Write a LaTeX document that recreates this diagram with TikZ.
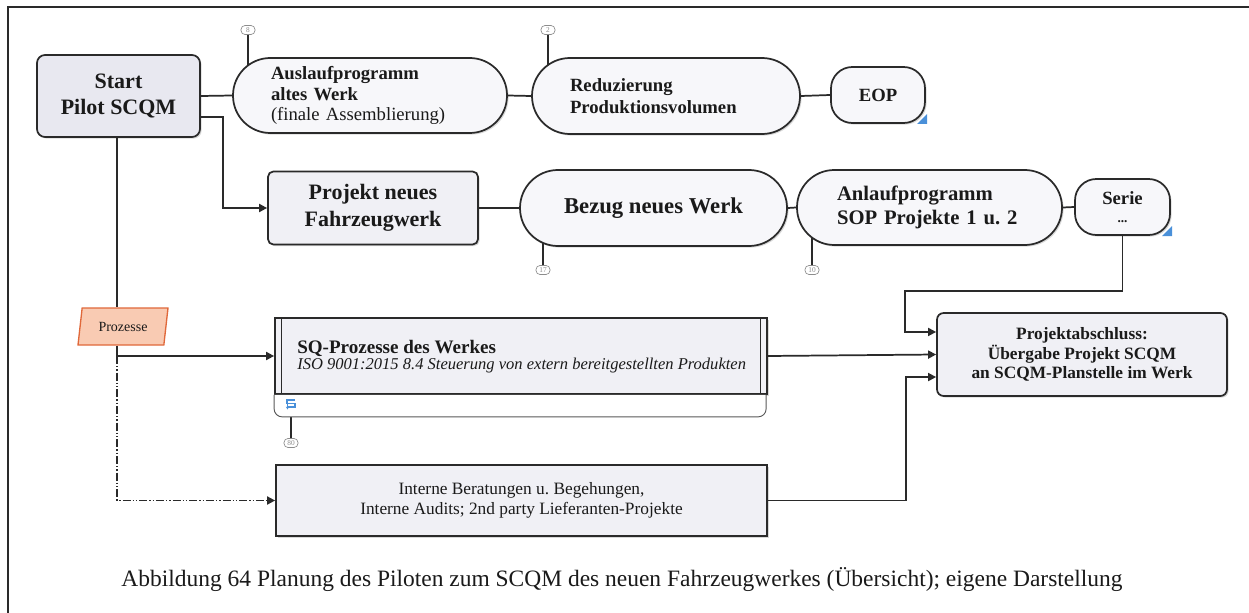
\documentclass[tikz,border=0pt]{standalone}
\usepackage{fontspec}
\setmainfont{Liberation Serif}
\usetikzlibrary{shapes.geometric,shadows,arrows.meta}
\pgfdeclarelayer{background}
\pgfsetlayers{background,main}
\frenchspacing

\definecolor{boxfill}{HTML}{F0F0F5}
\definecolor{startfill}{HTML}{E8E8F0}
\definecolor{stadfill}{HTML}{F7F7FA}
\definecolor{edgec}{HTML}{2A2A2A}
\definecolor{procfill}{HTML}{F9CBB3}
\definecolor{procedge}{HTML}{E0683A}
\definecolor{markgray}{HTML}{8C8C8C}
\definecolor{cornerblue}{HTML}{4A90D9}
\definecolor{txt}{HTML}{1A1A1A}

\tikzset{
  base/.style={draw=edgec, line width=1.3pt, inner sep=0pt, text=txt,
    drop shadow={shadow xshift=1.2pt, shadow yshift=-1.2pt, opacity=0.3, fill=gray}},
  boxnode/.style={base, fill=boxfill, rounded corners=4pt, align=center, font=\bfseries},
  stadnode/.style={base, fill=stadfill, font=\bfseries},
  marker/.style={draw=markgray, line width=0.5pt, rounded corners=3pt, fill=white,
    minimum width=10.5pt, minimum height=6.75pt, inner sep=0pt,
    font=\fontsize{5.5}{5.5}\selectfont, text=markgray},
  mline/.style={draw=edgec, line width=0.9pt},
  conn/.style={draw=edgec, line width=1.3pt},
  arr/.style={conn, -{Triangle[length=6pt,width=6pt]}},
  dashdotdot/.style={dash pattern=on 6pt off 1.5pt on 1pt off 1.5pt on 1pt off 1.5pt},
}

\begin{document}
\begin{tikzpicture}[x=0.75pt, y=-0.75pt]
\useasboundingbox (0,0) rectangle (1249,613);
\begin{pgfonlayer}{background}
\fill[white] (0,0) rectangle (1249,613);
\end{pgfonlayer}
% frame
\draw[edgec, line width=1.1pt] (1249,7) -- (8,7) -- (8,613);

% nodes
\node[boxnode, fill=startfill, rounded corners=6pt, minimum width=122.25pt, minimum height=61.5pt,
  font=\bfseries\fontsize{16.5}{19.5}\selectfont] (start) at (118.5,96) {Start\\Pilot SCQM};

\node[stadnode, rounded corners=28pt, minimum width=205.5pt, minimum height=56.25pt,
  text width=148.5pt, inner xsep=28.5pt, align=left, font=\fontsize{14}{15.5}\selectfont] (ausl) at (370,95.5)
  {\textbf{Auslaufprogramm}\\\textbf{altes Werk}\\(finale Assemblierung)};

\node[stadnode, rounded corners=28.5pt, minimum width=201pt, minimum height=57pt,
  text width=144pt, inner xsep=28.5pt, align=left, font=\bfseries\fontsize{14}{16}\selectfont] (reduz) at (666,96)
  {Reduzierung\\Produktionsvolumen};

\node[stadnode, rounded corners=16pt, minimum width=70.5pt, minimum height=42pt,
  font=\bfseries\fontsize{14}{16}\selectfont] (eop) at (878,95) {EOP};

\node[boxnode, minimum width=157.5pt, minimum height=54.75pt,
  font=\bfseries\fontsize{16.5}{20}\selectfont] (projekt) at (373,208) {Projekt neues\\Fahrzeugwerk};

\node[stadnode, rounded corners=28.5pt, minimum width=200.25pt, minimum height=57pt,
  font=\bfseries\fontsize{17}{19}\selectfont] (bezug) at (653.5,208) {Bezug neues Werk};

\node[stadnode, rounded corners=28pt, minimum width=198.75pt, minimum height=56.25pt,
  text width=138.75pt, inner xsep=30pt, align=left, font=\bfseries\fontsize{15.5}{18}\selectfont] (anlauf) at (929.5,207.5)
  {Anlaufprogramm\\SOP Projekte 1 u. 2};

\node[stadnode, rounded corners=16pt, minimum width=71.25pt, minimum height=42pt, align=center,
  font=\bfseries\fontsize{14}{16}\selectfont] (serie) at (1122.5,207) {Serie\\[-2pt]{\fontsize{10}{10}\selectfont ...}};

\node[boxnode, rounded corners=5pt, minimum width=217.5pt, minimum height=62.25pt,
  font=\bfseries\fontsize{13}{14.6}\selectfont] (absch) at (1082,354.5)
  {Projektabschluss:\\Übergabe Projekt SCQM\\an SCQM-Planstelle im Werk};

\node[boxnode, minimum width=369pt, minimum height=57pt, rounded corners=0pt] (sq) at (521,356) {};

\node[boxnode, rounded corners=0pt, minimum width=368.25pt, minimum height=53.25pt,
  font=\fontsize{13}{15}\selectfont] (interne) at (521.5,500.5)
  {Interne Beratungen u. Begehungen,\\Interne Audits; 2nd party Lieferanten-Projekte};

\node[trapezium, trapezium left angle=75, trapezium right angle=105, trapezium stretches=true,
  draw=procedge, fill=procfill, line width=1pt, minimum width=67.5pt, minimum height=27.75pt,
  inner sep=0pt, font=\fontsize{10.5}{12}\selectfont, text=txt] (proz) at (123,326.5) {Prozesse};

% SQ details
\draw[edgec, line width=1pt] ([xshift=5.5pt]sq.north west) -- ([xshift=5.5pt]sq.south west);
\draw[edgec, line width=1pt] ([xshift=-5.5pt]sq.north east) -- ([xshift=-5.5pt]sq.south east);
\draw[draw=gray!70!black, line width=0.7pt, fill=white, rounded corners=6pt]
  (sq.south west) -- ++(0,22) -- ++(492,0) -- ++(0,-22);
\node[anchor=west, align=left, inner sep=0pt, text=txt] (sqt) at (297,357)
  {{\bfseries\fontsize{14.3}{16.5}\selectfont SQ-Prozesse des Werkes}\\
   {\itshape\fontsize{12.4}{14}\selectfont ISO 9001:2015 8.4 Steuerung von extern bereitgestellten Produkten}};
\draw[cornerblue, line width=0.8pt] (295,400) -- (287,400) -- (287,403.5) -- (295,403.5) -- (295,407) -- (288,407);
\draw[cornerblue, line width=0.8pt, -{Stealth[length=2.2pt,width=2.5pt]}] (287.5,404) -- (287.5,409.5);

% blue corner marks
\fill[cornerblue] (927,114) -- (927,124) -- (917,124) -- cycle;
\fill[cornerblue] (1172,226) -- (1172,236) -- (1162,236) -- cycle;

% markers
\node[marker] (m8) at (248,30) {8};
\node[marker] (m2) at (548,30) {2};
\node[marker] (m17) at (543,270) {17};
\node[marker] (m10) at (812,270) {10};
\node[marker] (m80) at (291,443) {80};

\begin{pgfonlayer}{background}
\draw[mline] (m8.south) -- (m8.south |- ausl.center);
\draw[mline] (m2.south) -- (m2.south |- reduz.center);
\draw[mline] (m17.north) -- (m17.north |- bezug.center);
\draw[mline] (m10.north) -- (m10.north |- anlauf.center);
\draw[mline] (m80.north) -- (m80.north |- sq.center);
\end{pgfonlayer}

% connectors
\draw[conn] (start.east) -- (ausl.west);
\draw[conn] (ausl.east) -- (reduz.west);
\draw[conn] (reduz.east) -- (eop.west);
\draw[arr] ([yshift=-15.75pt]start.east) -- ++(22,0) |- (projekt.west);
\draw[conn] (projekt.east) -- (bezug.west);
\draw[conn] (bezug.east) -- (anlauf.west);
\draw[conn] (anlauf.east) -- (serie.west);
\coordinate (jx1) at (905,291);
\draw[arr] (serie.south) |- (jx1) |- ([yshift=16.9pt]absch.west);
\draw[arr] (sq.east) -- (absch.west);
\draw[arr] (interne.east) -- ++(138,0) |- ([yshift=-16.9pt]absch.west);

\coordinate (jp) at (117,356);
\draw[conn] (start.south -| jp) -- (jp |- proz.north);
\draw[conn] (jp |- proz.south) -- (jp);
\draw[arr] (jp) -- (sq.west);
\draw[arr, dashdotdot, line width=1.3pt] (jp) |- (interne.west);

% caption
\node[text=txt, inner sep=0pt] (cap) at (622,580)
  {\fontsize{17.6}{20}\selectfont Abbildung 64 Planung des Piloten zum SCQM des neuen Fahrzeugwerkes (Übersicht); eigene Darstellung};
\end{tikzpicture}
\end{document}
